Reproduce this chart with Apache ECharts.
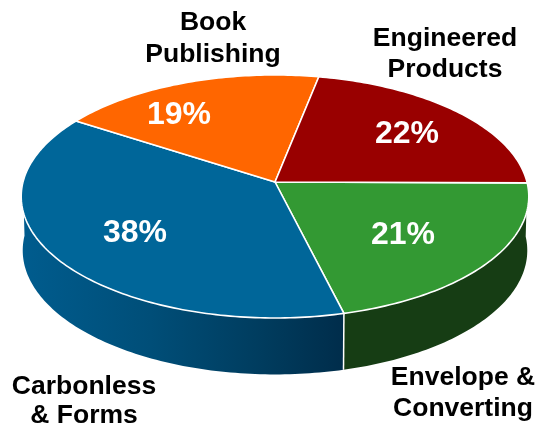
<!DOCTYPE html>
<html>
<head>
<meta charset="utf-8">
<style>html,body{margin:0;padding:0;background:#fff}#c{width:539px;height:425px}</style>
<script src="https://cdn.jsdelivr.net/npm/echarts@6/dist/echarts.min.js"></script>
</head>
<body>
<div id="c"></div>
<script>
// Data, clockwise from the right-hand edge of the pie
const categories = ['Envelope & Converting', 'Carbonless & Forms', 'Book Publishing', 'Engineered Products'];
const shares = [21, 38, 19, 22];

// Styling and layout
const topColors = ['#339933', '#006699', '#FF6600', '#990000'];
const wallFills = [
  '#163D14',
  {type:'linear',x:22,y:0,x2:343,y2:0,global:true,colorStops:[
    {offset:0,color:'#005C8E'},{offset:0.4,color:'#004E78'},{offset:0.75,color:'#003C5E'},{offset:1,color:'#002D4B'}]},
  '#000', '#000'
];
const nameLines = [['Envelope &','Converting'],['Carbonless','& Forms'],['Book','Publishing'],['Engineered','Products']];
const nameAnchors = [[463,378,409],[84,387,416],[213,23,55],[445,39,70]];
const shareAnchors = [[403,235],[135,233],[179,115],[407,134]];
const labelFont = '"Liberation Sans", Arial, sans-serif';

// Perspective projection of the disc
const CX=275, CY=182, R=252, S=119.8, K=0.119, MIDY=197, DEPTH=54, SHRINK=0.994, ARC_STEP=1, ROTATION=0.4;
const total = shares.reduce((a,b)=>a+b,0);
const spans = []; let acc = 0;
shares.forEach(v => { spans.push([ROTATION+acc/total*360, ROTATION+(acc+v)/total*360]); acc += v; });
function topPoint(deg){
  const t=deg*Math.PI/180,u=Math.cos(t),v=Math.sin(t),d=1-K*v;
  return [CX+R*u/d, CY+S*v/d];
}
function bottomPoint(deg){
  const p=topPoint(deg);
  return [CX+(p[0]-CX)*SHRINK, MIDY+(p[1]-MIDY)*1.02+DEPTH];
}
function arc(fn,a,b){
  const n=Math.max(1,Math.ceil(Math.abs(b-a)/ARC_STEP)),pts=[];
  for(let i=0;i<=n;i++)pts.push(fn(a+(b-a)*i/n));
  return pts;
}
const seriesData = categories.map((n,i)=>({name:n,value:shares[i]}));

function renderWall(params){
  const i=params.dataIndex, a=Math.max(spans[i][0],0), b=Math.min(spans[i][1],180);
  if(b<=a) return {type:'group',children:[]};
  const pts=arc(topPoint,a,b).concat(arc(bottomPoint,b,a));
  const children=[{type:'polygon',shape:{points:pts},style:{fill:wallFills[i],stroke:null}}];
  if(spans[i][1]<180){
    const p=topPoint(spans[i][1]),q=bottomPoint(spans[i][1]);
    children.push({type:'line',z2:5,shape:{x1:p[0],y1:p[1],x2:q[0],y2:q[1]},style:{stroke:'#fff',lineWidth:1.5}});
  }
  return {type:'group',children};
}
function renderTop(params){
  const i=params.dataIndex;
  const pts=[[CX,CY]].concat(arc(topPoint,spans[i][0],spans[i][1]));
  return {type:'polygon',shape:{points:pts},style:{fill:topColors[i],stroke:'#fff',lineWidth:1.6,lineJoin:'round'}};
}
function renderText(params){
  const i=params.dataIndex, n=nameAnchors[i], s=shareAnchors[i];
  const label=(text,x,y,size,color)=>({type:'text',style:{text,x,y,fill:color,font:'bold '+size+'px '+labelFont,align:'center',verticalAlign:'middle'}});
  return {type:'group',children:[
    label(nameLines[i][0],n[0],n[1],26.5,'#000'),
    label(nameLines[i][1],n[0],n[2],26.5,'#000'),
    label(shares[i]+'%',s[0],s[1],32,'#fff')
  ]};
}
const chart=echarts.init(document.getElementById('c'),null,{renderer:'canvas'});
chart.setOption({
  animation:false,
  backgroundColor:'#fff',
  series:[
    {type:'custom',coordinateSystem:'none',z:1,silent:true,data:seriesData,renderItem:renderWall},
    {type:'custom',coordinateSystem:'none',z:2,silent:true,data:seriesData,renderItem:renderTop},
    {type:'custom',coordinateSystem:'none',z:3,silent:true,data:seriesData,renderItem:renderText}
  ]
});
</script>
</body>
</html>
